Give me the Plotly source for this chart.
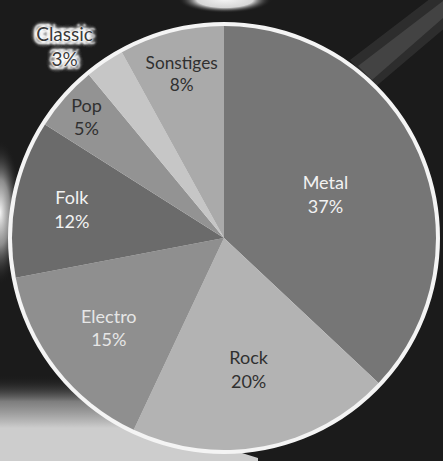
import plotly.graph_objects as go

# Music genre shares (percent), clockwise from twelve o'clock
genres = ["Metal", "Rock", "Electro", "Folk", "Pop", "Classic", "Sonstiges"]
shares = [37, 20, 15, 12, 5, 3, 8]

slice_colors = ["#767676", "#b3b3b3", "#8f8f8f", "#6b6b6b", "#939393", "#c6c6c6", "#aaaaaa"]
label_colors = ["#f2f2f2", "#303030", "#e6e6e6", "#f2f2f2", "#303030", "#3a3a3a", "#303030"]
label_positions = ["inside", "inside", "inside", "inside", "inside", "outside", "inside"]

W, H = 443, 461
BG = "#1b1b1b"
FONT = "Lato, Open Sans, sans-serif"
HALO = ", ".join(["0px 0px 2px #ffffff"] * 3 + ["0px 0px 6px #ffffff"] * 5
                 + ["3px 3px 2px #ffffff", "-3px -3px 2px #ffffff", "3px -3px 2px #ffffff", "-3px 3px 2px #ffffff"])

fig = go.Figure()


def patch(xs, ys, gradient=None, color=None):
    """Light patch in the backdrop (pixel coordinates)."""
    kw = dict(fillgradient=gradient) if gradient else dict(fillcolor=color)
    fig.add_trace(go.Scatter(
        x=xs, y=ys, mode="lines", line=dict(width=0), fill="toself",
        hoverinfo="skip", showlegend=False, **kw,
    ))


# backdrop lighting: pale floor at lower left, tucked under the pie rim
patch([0, 150, 200, 258, 258, 0, 0], [370, 370, 440, 458, 470, 470, 370],
      dict(type="vertical", start=375, stop=428,
           colorscale=[[0, "rgba(27,27,27,0)"], [0.5, "rgba(150,150,150,0.8)"], [1, "rgba(205,205,205,1)"]]))
# glare on the left edge
patch([-22, 22, 22, -22, -22], [140, 140, 285, 285, 140],
      dict(type="radial", colorscale=[[0, "rgba(245,245,245,1)"], [0.45, "rgba(190,190,190,0.7)"], [1, "rgba(27,27,27,0)"]]))
# bright glow at the top edge
patch([178, 272, 272, 178, 178], [-14, -14, 13, 13, -14],
      dict(type="radial", colorscale=[[0, "rgba(245,245,245,1)"], [0.6, "rgba(235,235,235,0.9)"], [1, "rgba(27,27,27,0)"]]))
# soft diagonal streak in the upper right corner
patch([350, 374, 452, 452, 350], [60, 88, 22, -18, 60], color="rgba(90,90,90,0.3)")
patch([358, 372, 452, 452, 358], [66, 80, 10, -6, 66], color="rgba(110,110,110,0.35)")

# pie geometry
cx, cy, r = 224, 238, 212
dom_x = [(cx - r) / W, (cx + r) / W]
dom_y = [(H - cy - r) / H, (H - cy + r) / H]

# white rim behind the pie
fig.add_trace(go.Pie(
    values=[1], labels=["rim"], sort=False, textinfo="none",
    marker=dict(colors=["#f4f4f4"], line=dict(color="#f4f4f4", width=8)),
    domain=dict(x=dom_x, y=dom_y), hoverinfo="skip", showlegend=False,
))

fig.add_trace(go.Pie(
    labels=genres, values=shares, sort=False, direction="clockwise", rotation=0,
    marker=dict(colors=slice_colors, line=dict(width=0)),
    texttemplate="%{label}<br>%{value}%",
    textposition=label_positions,
    insidetextorientation="horizontal",
    textfont=dict(family=FONT, size=18, color=label_colors),
    insidetextfont=dict(family=FONT, size=18, color=label_colors, shadow="none"),
    outsidetextfont=dict(family=FONT, size=19, color=label_colors, shadow=HALO),
    domain=dict(x=dom_x, y=dom_y),
    showlegend=False,
))

fig.update_layout(
    width=W, height=H,
    margin=dict(l=0, r=0, t=0, b=0),
    paper_bgcolor=BG, plot_bgcolor=BG,
    xaxis=dict(range=[0, W], visible=False, fixedrange=True),
    yaxis=dict(range=[H, 0], visible=False, fixedrange=True),
)

fig.write_html("out.html")
